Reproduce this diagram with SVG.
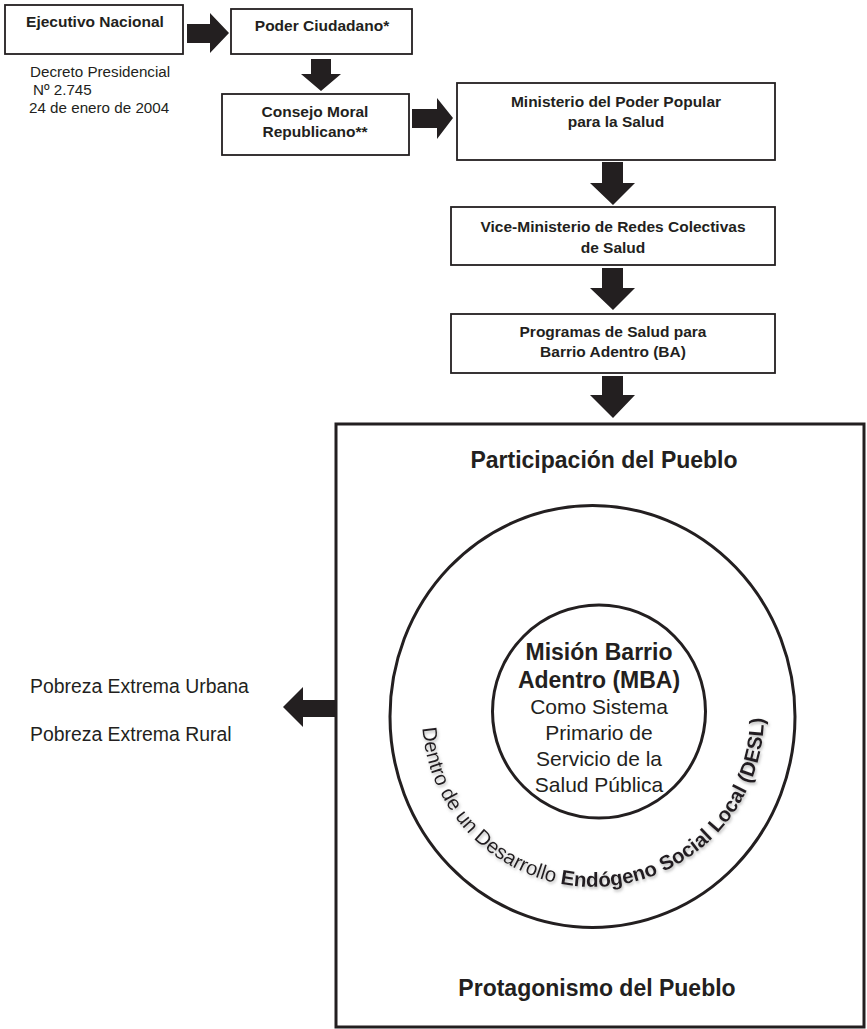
<svg xmlns="http://www.w3.org/2000/svg" width="867" height="1029" viewBox="0 0 867 1029">
  <style>
    .box { fill: #ffffff; stroke: #231f20; stroke-width: 1.8; }
    .bt { font-family: "Liberation Sans", Arial, sans-serif; font-weight: bold; font-size: 15.5px; fill: #231f20; text-anchor: middle; }
    .rt { font-family: "Liberation Sans", Arial, sans-serif; font-size: 15.2px; fill: #231f20; }
    .pob { font-family: "Liberation Sans", Arial, sans-serif; font-size: 19.4px; fill: #231f20; }
    .big { font-family: "Liberation Sans", Arial, sans-serif; font-weight: bold; font-size: 23px; fill: #231f20; text-anchor: middle; }
    .cb { font-family: "Liberation Sans", Arial, sans-serif; font-weight: bold; font-size: 23px; fill: #231f20; text-anchor: middle; }
    .cr { font-family: "Liberation Sans", Arial, sans-serif; font-size: 21px; fill: #231f20; text-anchor: middle; }
    .arc { font-family: "Liberation Sans", Arial, sans-serif; font-size: 20.5px; fill: #231f20; }
    .arcb { font-weight: bold; }
    .ring { fill: none; stroke: #231f20; stroke-width: 3; }
    .arrow { fill: #231f20; stroke: none; }
  </style>
  <defs>
    <filter id="shadow" x="-20%" y="-20%" width="140%" height="140%">
      <feDropShadow dx="1" dy="2" stdDeviation="1.5" flood-color="#888888" flood-opacity="0.6"/>
    </filter>
    <path id="ringPath" d="M 422.4 727.9 A 171 171 0 1 0 761.4 686.3"/>
  </defs>

  <g id="connectors">
    <polygon class="arrow" points="187,24 210,24 210,13 229,33 210,53 210,43 187,43"/>
    <polygon class="arrow" points="311,59 331,59 331,74 341,74 321,91 301,74 311,74"/>
    <polygon class="arrow" points="412,109 437,109 437,98 453,118 437,139 437,128 412,128"/>
    <polygon class="arrow" points="602,162 623,162 623,183 635,183 613,205 590,183 602,183"/>
    <polygon class="arrow" points="602,268 623,268 623,288 635,288 613,310 590,288 602,288"/>
    <polygon class="arrow" points="602,376 623,376 623,395 635,395 613,418 590,395 602,395"/>
    <polygon class="arrow" points="335,700 303,700 303,687 283,707 303,727 303,717 335,717"/>
  </g>

  <g id="ejecutivo">
    <rect class="box" x="5" y="5" width="178" height="49"/>
    <text class="bt" x="95" y="27">Ejecutivo Nacional</text>
  </g>

  <g id="decreto">
    <text class="rt" x="30" y="77">Decreto Presidencial</text>
    <text class="rt" x="33" y="95">Nº 2.745</text>
    <text class="rt" x="29" y="113">24 de enero de 2004</text>
  </g>

  <g id="poder-ciudadano">
    <rect class="box" x="231" y="9" width="181" height="45"/>
    <text class="bt" x="322" y="31">Poder Ciudadano*</text>
  </g>

  <g id="consejo-moral">
    <rect class="box" x="222" y="94" width="187" height="61"/>
    <text class="bt" x="315" y="117">Consejo Moral</text>
    <text class="bt" x="315" y="137">Republicano**</text>
  </g>

  <g id="ministerio">
    <rect class="box" x="457" y="83" width="318" height="77"/>
    <text class="bt" x="616" y="107">Ministerio del Poder Popular</text>
    <text class="bt" x="616" y="127">para la Salud</text>
  </g>

  <g id="vice-ministerio">
    <rect class="box" x="451" y="207" width="324" height="58"/>
    <text class="bt" x="613" y="232">Vice-Ministerio de Redes Colectivas</text>
    <text class="bt" x="613" y="253">de Salud</text>
  </g>

  <g id="programas">
    <rect class="box" x="451" y="314" width="324" height="59"/>
    <text class="bt" x="613" y="337">Programas de Salud para</text>
    <text class="bt" x="613" y="357">Barrio Adentro (BA)</text>
  </g>

  <g id="pobreza">
    <text class="pob" x="30" y="693">Pobreza Extrema Urbana</text>
    <text class="pob" x="30" y="741">Pobreza Extrema Rural</text>
  </g>

  <g id="participacion-box">
    <rect x="336" y="424" width="528" height="603" fill="#ffffff" stroke="#231f20" stroke-width="3"/>
    <text class="big" x="604" y="468">Participación del Pueblo</text>
    <text class="big" x="597" y="996">Protagonismo del Pueblo</text>
  </g>

  <g id="desl-ring">
    <ellipse class="ring" cx="592.5" cy="716.5" rx="202.5" ry="211"/>
    <g filter="url(#shadow)">
      <text class="arc"><textPath href="#ringPath" startOffset="0">Dentro</textPath></text>
      <text class="arc"><textPath href="#ringPath" startOffset="67.2">de</textPath></text>
      <text class="arc"><textPath href="#ringPath" startOffset="95.7">un</textPath></text>
      <text class="arc"><textPath href="#ringPath" startOffset="124.2">Desarrollo</textPath></text>
      <text class="arc arcb"><textPath href="#ringPath" startOffset="223.3">Endógeno</textPath></text>
      <text class="arc arcb"><textPath href="#ringPath" startOffset="329.2">Social</textPath></text>
      <text class="arc arcb"><textPath href="#ringPath" startOffset="395.3">Local</textPath></text>
      <text class="arc arcb"><textPath href="#ringPath" startOffset="454.6">(DESL)</textPath></text>
    </g>
  </g>

  <g id="mision-barrio-adentro">
    <circle class="ring" cx="599" cy="711.5" r="106.5"/>
    <text class="cb" x="599" y="660">Misión Barrio</text>
    <text class="cb" x="599" y="688">Adentro (MBA)</text>
    <text class="cr" x="599" y="714">Como Sistema</text>
    <text class="cr" x="599" y="740">Primario de</text>
    <text class="cr" x="599" y="766">Servicio de la</text>
    <text class="cr" x="599" y="792">Salud Pública</text>
  </g>
</svg>
